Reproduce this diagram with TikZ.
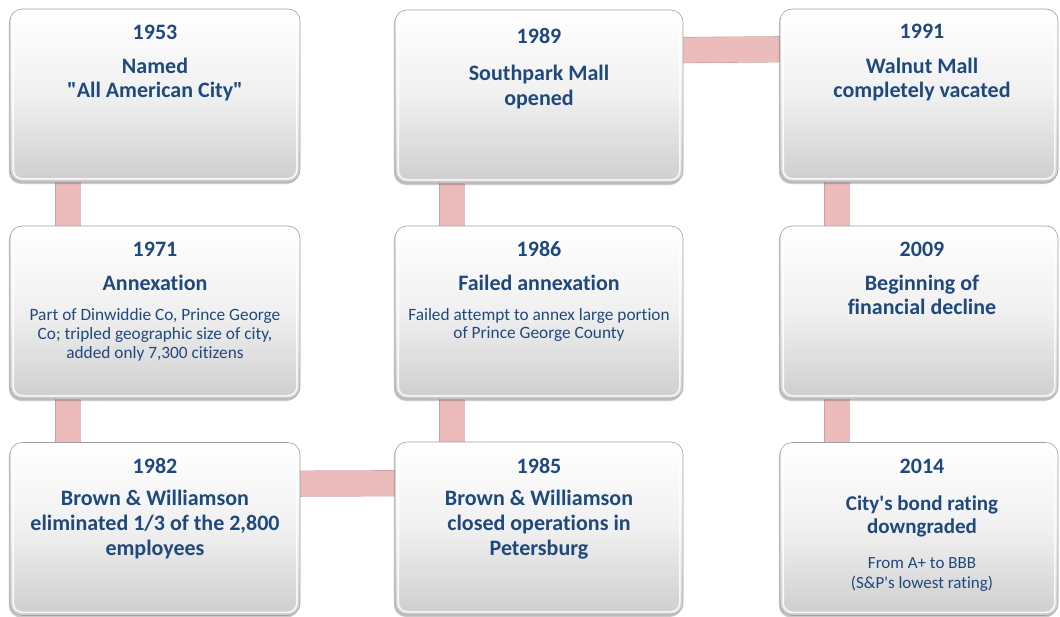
\documentclass[tikz,border=0pt]{standalone}
\usepackage{fontspec}
\newfontfamily\calibri{Carlito}[Ligatures={NoCommon}]
\usetikzlibrary{calc,shadows}
\definecolor{txt}{RGB}{31,73,125}
\definecolor{pinkfill}{RGB}{236,187,188}
\definecolor{pinkedge}{RGB}{205,160,161}
\definecolor{boxedge}{RGB}{160,160,160}
\definecolor{boxbot}{RGB}{206,206,206}
\definecolor{boxmid}{RGB}{240,240,240}
\pgfdeclarelayer{background}
\pgfsetlayers{background,main}
\begin{document}
\begin{tikzpicture}[x=1pt,y=-1pt,
  box/.style={draw=boxedge, line width=0.6pt, rounded corners=12pt, inner sep=0pt,
    minimum height=173pt, top color=white, bottom color=boxbot, middle color=boxmid,
    drop shadow={shadow xshift=-1.2pt, shadow yshift=-2pt, opacity=0.3, fill=black!70}},
  bevel/.style={draw=white, line width=1.6pt, rounded corners=9pt, opacity=0.85},
  conn/.style={draw=pinkedge, line width=0.6pt, double=pinkfill, double distance=25pt},
  yr/.style={anchor=base, text=txt, inner sep=0pt, font=\calibri\fontsize{22}{26}\selectfont\bfseries},
  tt/.style={anchor=base, text=txt, inner sep=0pt, font=\calibri\fontsize{22}{26}\selectfont\bfseries},
  tts/.style={anchor=base, text=txt, inner sep=0pt, font=\calibri\fontsize{21}{25}\selectfont\bfseries},
  bd/.style={anchor=base, text=txt, inner sep=0pt, font=\calibri\fontsize{17.3}{20}\selectfont},
  bdl/.style={anchor=base, text=txt, inner sep=0pt, font=\calibri\fontsize{17}{20}\selectfont},
]
\useasboundingbox (0,0) rectangle (1060,616);

% boxes
\node[box, minimum width=290pt] (b1) at (155,95.5) {};
\node[box, minimum width=288pt] (b2) at (539,96.5) {};
\node[box, minimum width=278pt] (b3) at (919,95.5) {};
\node[box, minimum width=290pt] (b4) at (155,312.5) {};
\node[box, minimum width=288pt] (b5) at (539,312.5) {};
\node[box, minimum width=278pt] (b6) at (919,312.5) {};
\node[box, minimum width=290pt] (b7) at (155,529) {};
\node[box, minimum width=288pt] (b8) at (539,528.5) {};
\node[box, minimum width=278pt] (b9) at (919,529) {};

\foreach \n in {b1,b2,b3,b4,b5,b6,b7,b8,b9}
  \draw[bevel] ($(\n.south west)+(3.5,-3.5)$) rectangle ($(\n.north east)+(-3.5,3.5)$);

% connectors
\begin{pgfonlayer}{background}
  \draw[conn] ($(b1.south west)+(58.5,-12)$) -- ($(b4.north west)+(58.5,12)$);
  \draw[conn] ($(b4.south west)+(58.5,-12)$) -- ($(b7.north west)+(58.5,12)$);
  \draw[conn] ($(b7.north east)+(-12,41.5)$) -- ($(b8.north west)+(12,41.5)$);
  \draw[conn] ($(b8.north west)+(57.5,12)$) -- ($(b5.south west)+(57.5,-12)$);
  \draw[conn] ($(b5.north west)+(57.5,12)$) -- ($(b2.south west)+(57.5,-12)$);
  \draw[conn] ($(b2.north east)+(-12,40.5)$) -- ($(b3.north west)+(12,40.5)$);
  \draw[conn] ($(b3.south west)+(57.5,-12)$) -- ($(b6.north west)+(57.5,12)$);
  \draw[conn] ($(b6.south west)+(57.5,-12)$) -- ($(b9.north west)+(57.5,12)$);
\end{pgfonlayer}

% texts: 1953
\node[yr] (y1) at (155,39) {1953};
\node[tt] (t1a) at (155,73) {Named};
\node[tt] (t1b) at (155,97) {"All American City"};
% 1989
\node[yr] (y2) at (539,43) {1989};
\node[tt] (t2a) at (539,80) {Southpark Mall};
\node[tt] (t2b) at (539,105) {opened};
% 1991
\node[yr] (y3) at (922,38) {1991};
\node[tt] (t3a) at (922,73) {Walnut Mall};
\node[tt] (t3b) at (922,97) {completely vacated};
% 1971
\node[yr] (y4) at (155,256) {1971};
\node[tt] (t4a) at (155,290) {Annexation};
\node[bd] (d4a) at (155,320) {Part of Dinwiddie Co, Prince George};
\node[bd] (d4b) at (155,339) {Co; tripled geographic size of city,};
\node[bd] (d4c) at (155,358) {added only 7,300 citizens};
% 1986
\node[yr] (y5) at (539,256) {1986};
\node[tt] (t5a) at (539,290) {Failed annexation};
\node[bd] (d5a) at (539,320) {Failed attempt to annex large portion};
\node[bd] (d5b) at (539,338) {of Prince George County};
% 2009
\node[yr] (y6) at (922,256) {2009};
\node[tt] (t6a) at (922,290) {Beginning of};
\node[tt] (t6b) at (922,314) {financial decline};
% 1982
\node[yr] (y7) at (155,473) {1982};
\node[tt] (t7a) at (155,505) {Brown \& Williamson};
\node[tt] (t7b) at (155,530) {eliminated 1/3 of the 2,800};
\node[tt] (t7c) at (155,555) {employees};
% 1985
\node[yr] (y8) at (539,473) {1985};
\node[tt] (t8a) at (539,505) {Brown \& Williamson};
\node[tt] (t8b) at (539,530) {closed operations in};
\node[tt] (t8c) at (539,555) {Petersburg};
% 2014
\node[yr] (y9) at (922,473) {2014};
\node[tts] (t9a) at (922,510) {City's bond rating};
\node[tts] (t9b) at (922,533) {downgraded};
\node[bdl] (d9a) at (922,568) {From A+ to BBB};
\node[bdl] (d9b) at (922,588) {(S\&P's lowest rating)};
\end{tikzpicture}
\end{document}
